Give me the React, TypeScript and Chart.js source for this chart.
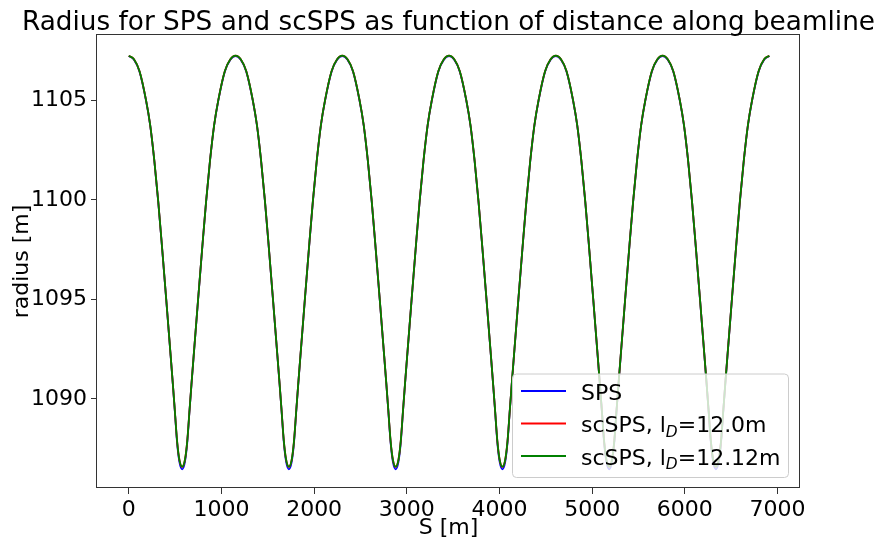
import React, { useEffect, useRef } from "react";
import { Chart, registerables } from "chart.js";

Chart.register(...registerables);

// Distance along beamline S [m] (shared sampling for all three series)
const sMeters = [
  0, 56, 116, 186, 231, 276, 318, 361, 404, 446, 476, 496, 521, 546, 576, 606, 631, 656, 676, 706, 748, 791, 834, 876, 921, 966, 1036, 1096,
  1152, 1208, 1268, 1338, 1383, 1428, 1470, 1513, 1556, 1598, 1628, 1648, 1673, 1698, 1728, 1758, 1783, 1808, 1828, 1858, 1900, 1943, 1986, 2028, 2073, 2118, 2188, 2248,
  2304, 2360, 2420, 2490, 2535, 2580, 2622, 2665, 2708, 2750, 2780, 2800, 2825, 2850, 2880, 2910, 2935, 2960, 2980, 3010, 3052, 3095, 3138, 3180, 3225, 3270, 3340, 3400,
  3456, 3512, 3572, 3642, 3687, 3732, 3774, 3817, 3860, 3902, 3932, 3952, 3977, 4002, 4032, 4062, 4087, 4112, 4132, 4162, 4204, 4247, 4290, 4332, 4377, 4422, 4492, 4552,
  4608, 4664, 4724, 4794, 4839, 4884, 4926, 4969, 5012, 5054, 5084, 5104, 5129, 5154, 5184, 5214, 5239, 5264, 5284, 5314, 5356, 5399, 5442, 5484, 5529, 5574, 5644, 5704,
  5760, 5816, 5876, 5946, 5991, 6036, 6078, 6121, 6164, 6206, 6236, 6256, 6281, 6306, 6336, 6366, 6391, 6416, 6436, 6466, 6508, 6551, 6594, 6636, 6681, 6726, 6796, 6856,
  6912,
];

// Radius [m], SPS
const radiusSPS = [
  1107.22, 1107.04, 1106.44, 1104.99, 1103.74, 1101.94, 1099.89, 1097.49, 1094.99, 1092.50, 1090.70, 1089.45, 1087.82, 1086.84, 1086.47, 1086.84, 1087.82, 1089.45, 1090.70, 1092.50, 1094.99, 1097.49, 1099.89, 1101.94, 1103.74, 1104.99, 1106.44, 1107.04,
  1107.22, 1107.04, 1106.44, 1104.99, 1103.74, 1101.94, 1099.89, 1097.49, 1094.99, 1092.50, 1090.70, 1089.45, 1087.82, 1086.84, 1086.47, 1086.84, 1087.82, 1089.45, 1090.70, 1092.50, 1094.99, 1097.49, 1099.89, 1101.94, 1103.74, 1104.99, 1106.44, 1107.04,
  1107.22, 1107.04, 1106.44, 1104.99, 1103.74, 1101.94, 1099.89, 1097.49, 1094.99, 1092.50, 1090.70, 1089.45, 1087.82, 1086.84, 1086.47, 1086.84, 1087.82, 1089.45, 1090.70, 1092.50, 1094.99, 1097.49, 1099.89, 1101.94, 1103.74, 1104.99, 1106.44, 1107.04,
  1107.22, 1107.04, 1106.44, 1104.99, 1103.74, 1101.94, 1099.89, 1097.49, 1094.99, 1092.50, 1090.70, 1089.45, 1087.82, 1086.84, 1086.47, 1086.84, 1087.82, 1089.45, 1090.70, 1092.50, 1094.99, 1097.49, 1099.89, 1101.94, 1103.74, 1104.99, 1106.44, 1107.04,
  1107.22, 1107.04, 1106.44, 1104.99, 1103.74, 1101.94, 1099.89, 1097.49, 1094.99, 1092.50, 1090.70, 1089.45, 1087.82, 1086.84, 1086.47, 1086.84, 1087.82, 1089.45, 1090.70, 1092.50, 1094.99, 1097.49, 1099.89, 1101.94, 1103.74, 1104.99, 1106.44, 1107.04,
  1107.22, 1107.04, 1106.44, 1104.99, 1103.74, 1101.94, 1099.89, 1097.49, 1094.99, 1092.50, 1090.70, 1089.45, 1087.82, 1086.84, 1086.47, 1086.84, 1087.82, 1089.45, 1090.70, 1092.50, 1094.99, 1097.49, 1099.89, 1101.94, 1103.74, 1104.99, 1106.44, 1107.04,
  1107.22,
];

// Radius [m], scSPS with l_D = 12.0 m
const radiusScSPS120 = [
  1107.24, 1107.06, 1106.46, 1105.01, 1103.76, 1101.96, 1099.91, 1097.51, 1095.01, 1092.52, 1090.72, 1089.47, 1087.90, 1086.95, 1086.59, 1086.95, 1087.90, 1089.47, 1090.72, 1092.52, 1095.01, 1097.51, 1099.91, 1101.96, 1103.76, 1105.01, 1106.46, 1107.06,
  1107.24, 1107.06, 1106.46, 1105.01, 1103.76, 1101.96, 1099.91, 1097.51, 1095.01, 1092.52, 1090.72, 1089.47, 1087.90, 1086.95, 1086.59, 1086.95, 1087.90, 1089.47, 1090.72, 1092.52, 1095.01, 1097.51, 1099.91, 1101.96, 1103.76, 1105.01, 1106.46, 1107.06,
  1107.24, 1107.06, 1106.46, 1105.01, 1103.76, 1101.96, 1099.91, 1097.51, 1095.01, 1092.52, 1090.72, 1089.47, 1087.90, 1086.95, 1086.59, 1086.95, 1087.90, 1089.47, 1090.72, 1092.52, 1095.01, 1097.51, 1099.91, 1101.96, 1103.76, 1105.01, 1106.46, 1107.06,
  1107.24, 1107.06, 1106.46, 1105.01, 1103.76, 1101.96, 1099.91, 1097.51, 1095.01, 1092.52, 1090.72, 1089.47, 1087.90, 1086.95, 1086.59, 1086.95, 1087.90, 1089.47, 1090.72, 1092.52, 1095.01, 1097.51, 1099.91, 1101.96, 1103.76, 1105.01, 1106.46, 1107.06,
  1107.24, 1107.06, 1106.46, 1105.01, 1103.76, 1101.96, 1099.91, 1097.51, 1095.01, 1092.52, 1090.72, 1089.47, 1087.90, 1086.95, 1086.59, 1086.95, 1087.90, 1089.47, 1090.72, 1092.52, 1095.01, 1097.51, 1099.91, 1101.96, 1103.76, 1105.01, 1106.46, 1107.06,
  1107.24, 1107.06, 1106.46, 1105.01, 1103.76, 1101.96, 1099.91, 1097.51, 1095.01, 1092.52, 1090.72, 1089.47, 1087.90, 1086.95, 1086.59, 1086.95, 1087.90, 1089.47, 1090.72, 1092.52, 1095.01, 1097.51, 1099.91, 1101.96, 1103.76, 1105.01, 1106.46, 1107.06,
  1107.24,
];

// Radius [m], scSPS with l_D = 12.12 m
const radiusScSPS1212 = [
  1107.24, 1107.06, 1106.46, 1105.01, 1103.76, 1101.96, 1099.91, 1097.51, 1095.01, 1092.52, 1090.72, 1089.47, 1087.90, 1086.95, 1086.60, 1086.95, 1087.90, 1089.47, 1090.72, 1092.52, 1095.01, 1097.51, 1099.91, 1101.96, 1103.76, 1105.01, 1106.46, 1107.06,
  1107.24, 1107.06, 1106.46, 1105.01, 1103.76, 1101.96, 1099.91, 1097.51, 1095.01, 1092.52, 1090.72, 1089.47, 1087.90, 1086.95, 1086.60, 1086.95, 1087.90, 1089.47, 1090.72, 1092.52, 1095.01, 1097.51, 1099.91, 1101.96, 1103.76, 1105.01, 1106.46, 1107.06,
  1107.24, 1107.06, 1106.46, 1105.01, 1103.76, 1101.96, 1099.91, 1097.51, 1095.01, 1092.52, 1090.72, 1089.47, 1087.90, 1086.95, 1086.60, 1086.95, 1087.90, 1089.47, 1090.72, 1092.52, 1095.01, 1097.51, 1099.91, 1101.96, 1103.76, 1105.01, 1106.46, 1107.06,
  1107.24, 1107.06, 1106.46, 1105.01, 1103.76, 1101.96, 1099.91, 1097.51, 1095.01, 1092.52, 1090.72, 1089.47, 1087.90, 1086.95, 1086.60, 1086.95, 1087.90, 1089.47, 1090.72, 1092.52, 1095.01, 1097.51, 1099.91, 1101.96, 1103.76, 1105.01, 1106.46, 1107.06,
  1107.24, 1107.06, 1106.46, 1105.01, 1103.76, 1101.96, 1099.91, 1097.51, 1095.01, 1092.52, 1090.72, 1089.47, 1087.90, 1086.95, 1086.60, 1086.95, 1087.90, 1089.47, 1090.72, 1092.52, 1095.01, 1097.51, 1099.91, 1101.96, 1103.76, 1105.01, 1106.46, 1107.06,
  1107.24, 1107.06, 1106.46, 1105.01, 1103.76, 1101.96, 1099.91, 1097.51, 1095.01, 1092.52, 1090.72, 1089.47, 1087.90, 1086.95, 1086.60, 1086.95, 1087.90, 1089.47, 1090.72, 1092.52, 1095.01, 1097.51, 1099.91, 1101.96, 1103.76, 1105.01, 1106.46, 1107.06,
  1107.24,
];

const seriesLabels = ["SPS", "scSPS, l_D=12.0m", "scSPS, l_D=12.12m"];
const seriesColors = ["#0000ff", "#ff0000", "#008000"];

const xTicks = [0, 1000, 2000, 3000, 4000, 5000, 6000, 7000];
const yTicks = [1090, 1095, 1100, 1105];

const titleText = "Radius for SPS and scSPS as function of distance along beamline";
const xLabel = "S [m]";
const yLabel = "radius [m]";

const FONT = '"DejaVu Sans", "Liberation Sans", sans-serif';

function drawRich(ctx: CanvasRenderingContext2D, text: string, x: number, y: number, size: number) {
  const parts = text.split(/_(\w)/);
  let cx = x;
  parts.forEach((p, i) => {
    if (i % 2 === 1) {
      ctx.font = `italic ${size * 0.7}px ${FONT}`;
      ctx.fillText(p, cx, y + size * 0.22);
    } else {
      ctx.font = `${size}px ${FONT}`;
      ctx.fillText(p, cx, y);
    }
    cx += ctx.measureText(p).width;
  });
}

const decorPlugin = {
  id: "decor",
  afterDraw(chart: any) {
    const ctx = chart.ctx as CanvasRenderingContext2D;
    const a = chart.chartArea;
    ctx.save();
    // frame
    ctx.strokeStyle = "#333";
    ctx.lineWidth = 1;
    ctx.strokeRect(Math.round(a.left) - 0.5, Math.round(a.top) - 0.5, Math.round(a.right - a.left), Math.round(a.bottom - a.top));
    // title
    ctx.fillStyle = "#000";
    ctx.textAlign = "center";
    ctx.textBaseline = "alphabetic";
    ctx.font = `26.3px ${FONT}`;
    ctx.fillText(titleText, (a.left + a.right) / 2, 30);
    // x label
    ctx.font = `22px ${FONT}`;
    ctx.fillText(xLabel, (a.left + a.right) / 2, 534);
    // y label
    ctx.save();
    ctx.translate(28, (a.top + a.bottom) / 2);
    ctx.rotate(-Math.PI / 2);
    ctx.fillText(yLabel, 0, 0);
    ctx.restore();

    // legend
    const bx = 512.5, by = 374, bw = 276, bh = 103.5, r = 4;
    ctx.beginPath();
    ctx.moveTo(bx + r, by);
    ctx.lineTo(bx + bw - r, by);
    ctx.quadraticCurveTo(bx + bw, by, bx + bw, by + r);
    ctx.lineTo(bx + bw, by + bh - r);
    ctx.quadraticCurveTo(bx + bw, by + bh, bx + bw - r, by + bh);
    ctx.lineTo(bx + r, by + bh);
    ctx.quadraticCurveTo(bx, by + bh, bx, by + bh - r);
    ctx.lineTo(bx, by + r);
    ctx.quadraticCurveTo(bx, by, bx + r, by);
    ctx.closePath();
    ctx.fillStyle = "rgba(255,255,255,0.8)";
    ctx.fill();
    ctx.strokeStyle = "#cccccc";
    ctx.lineWidth = 1;
    ctx.stroke();

    ctx.textAlign = "left";
    chart.data.datasets.forEach((ds: any, i: number) => {
      const ly = 391 + i * 32.5;
      ctx.strokeStyle = ds.borderColor;
      ctx.lineWidth = 1.8;
      ctx.beginPath();
      ctx.moveTo(521, ly);
      ctx.lineTo(566, ly);
      ctx.stroke();
      ctx.fillStyle = "#000";
      drawRich(ctx, ds.label, 581, ly + 8.5, 22);
    });
    ctx.restore();
  },
};

export default function App() {
  const ref = useRef<HTMLCanvasElement>(null);
  useEffect(() => {
    if (!ref.current) return;
    const radii = [radiusSPS, radiusScSPS120, radiusScSPS1212];
    const chart = new Chart(ref.current, {
      type: "line",
      data: {
        datasets: seriesLabels.map((label, i) => ({
          label,
          data: sMeters.map((s, j) => ({ x: s, y: radii[i][j] })),
          borderColor: seriesColors[i],
          backgroundColor: seriesColors[i],
          borderWidth: 1.8,
          pointRadius: 0,
          fill: false,
          cubicInterpolationMode: "monotone" as const,
          order: 3 - i,
        })),
      },
      options: {
        responsive: false,
        animation: false,
        layout: { padding: { top: 35, right: 77, left: 0, bottom: 0 } },
        plugins: {
          legend: { display: false },
          title: { display: false },
          tooltip: { enabled: false },
        },
        scales: {
          x: {
            type: "linear",
            min: -343,
            max: 7243,
            afterBuildTicks: (s: any) => {
              s.ticks = xTicks.map((v) => ({ value: v }));
            },
            afterFit: (s: any) => {
              s.height = 54;
            },
            border: { display: false },
            grid: { drawOnChartArea: false, drawTicks: true, tickLength: 6, tickColor: "#333", lineWidth: 1 },
            ticks: {
              color: "#000",
              font: { family: FONT, size: 22 },
              padding: 3,
              maxRotation: 0,
              autoSkip: false,
              callback: (v: any) => String(v),
            },
          },
          y: {
            type: "linear",
            min: 1085.53,
            max: 1108.28,
            afterBuildTicks: (s: any) => {
              s.ticks = yTicks.map((v) => ({ value: v }));
            },
            afterFit: (s: any) => {
              s.width = 97;
            },
            border: { display: false },
            grid: { drawOnChartArea: false, drawTicks: true, tickLength: 6, tickColor: "#333", lineWidth: 1 },
            ticks: {
              color: "#000",
              font: { family: FONT, size: 22 },
              padding: 4,
              autoSkip: false,
              callback: (v: any) => String(v),
            },
          },
        },
      },
      plugins: [decorPlugin],
    });
    return () => chart.destroy();
  }, []);
  return (
    <div style={{ position: "fixed", left: 0, top: 0, width: 877, height: 542, background: "#fff" }}>
      <canvas ref={ref} width={877} height={542} style={{ display: "block", width: 877, height: 542 }} />
    </div>
  );
}
